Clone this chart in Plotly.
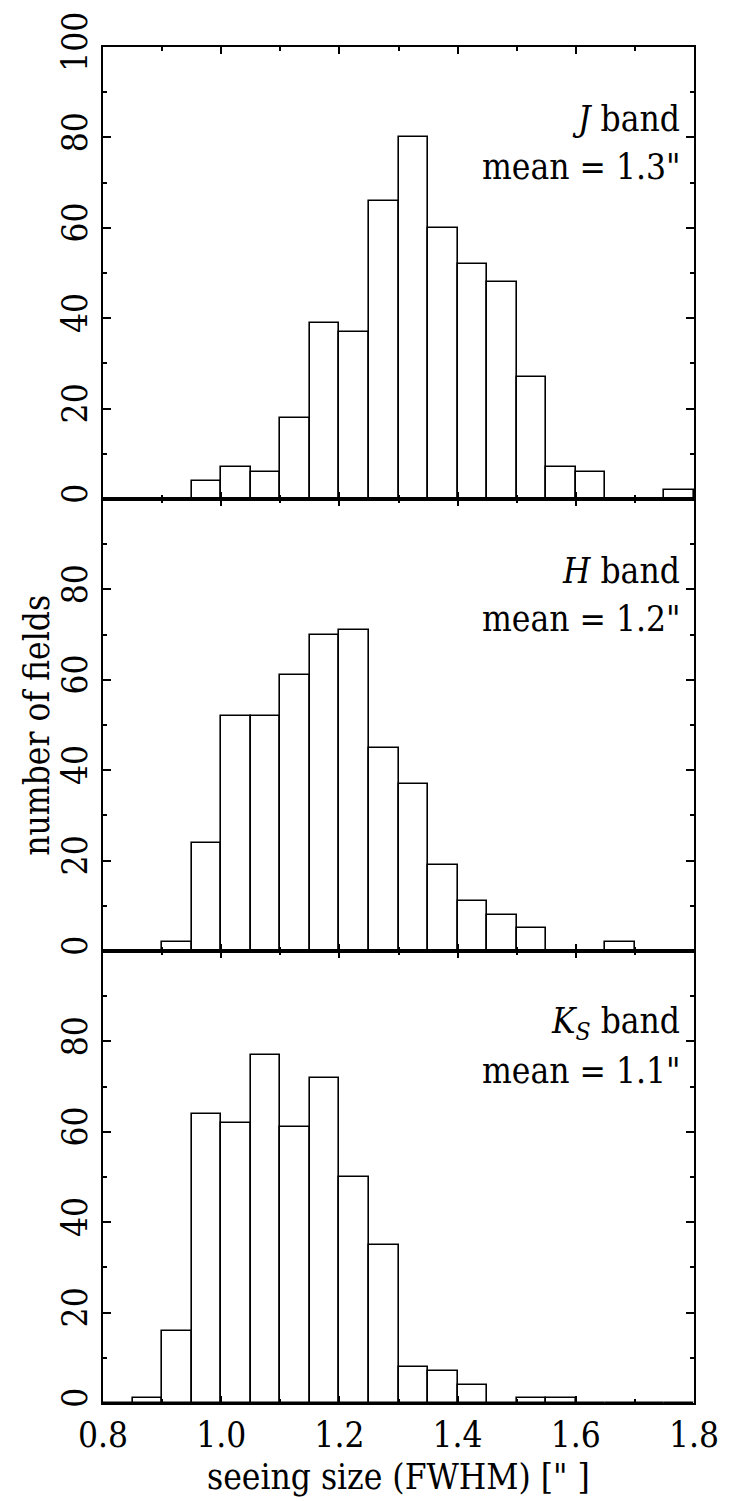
import plotly.graph_objects as go
from plotly.subplots import make_subplots

bin_left = [0.80, 0.85, 0.90, 0.95, 1.00, 1.05, 1.10, 1.15, 1.20, 1.25,
            1.30, 1.35, 1.40, 1.45, 1.50, 1.55, 1.60, 1.65, 1.70, 1.75]
bin_width = 0.05

j_counts = [0, 0, 0, 4, 7, 6, 18, 39, 37, 66, 80, 60, 52, 48, 27, 7, 6, 0, 0, 2]
h_counts = [0, 0, 2, 24, 52, 52, 61, 70, 71, 45, 37, 19, 11, 8, 5, 0, 0, 2, 0, 0]
ks_counts = [0, 1, 16, 64, 62, 77, 61, 72, 50, 35, 8, 7, 4, 0, 1, 1, 0, 0, 0, 0]

band_labels = ["<i>J</i> band", "<i>H</i> band", "<i>K</i><sub><i>S</i></sub> band"]
mean_labels = ['mean = 1.3"', 'mean = 1.2"', 'mean = 1.1"']

x_ticks = [0.8, 1.0, 1.2, 1.4, 1.6, 1.8]
x_ticklabels = ["0.8", "1.0", "1.2", "1.4", "1.6", "1.8"]
y_ticks_top = [0, 20, 40, 60, 80, 100]
y_ticks_other = [0, 20, 40, 60, 80]

FONT = "DejaVu Serif Condensed"
FS = 35

fig = make_subplots(rows=3, cols=1, shared_xaxes=True, vertical_spacing=0)

centers = [b + bin_width / 2 for b in bin_left]
for i, counts in enumerate([j_counts, h_counts, ks_counts]):
    xr = "x" if i == 0 else f"x{i + 1}"
    yr = "y" if i == 0 else f"y{i + 1}"
    fig.add_trace(go.Bar(
        x=centers, y=counts, width=[bin_width] * len(centers),
        marker=dict(color="white", line=dict(color="black", width=1.6)),
        showlegend=False,
    ), row=i + 1, col=1)
    fig.add_annotation(x=1.78, y=84, xref=xr, yref=yr,
                       text=band_labels[i], showarrow=False, xanchor="right", yanchor="middle",
                       font=dict(family=FONT, size=FS, color="black"))
    fig.add_annotation(x=1.78, y=73.5, xref=xr, yref=yr,
                       text=mean_labels[i], showarrow=False, xanchor="right", yanchor="middle",
                       font=dict(family=FONT, size=FS, color="black"))

for r in range(1, 4):
    fig.update_xaxes(range=[0.8, 1.8], showgrid=False, zeroline=False,
                     showline=True, linecolor="black", linewidth=2, mirror="allticks",
                     ticks="inside", ticklen=7, tickwidth=1.5, tickcolor="black",
                     tickvals=x_ticks, ticktext=x_ticklabels,
                     minor=dict(dtick=0.1, tick0=0.8, ticks="inside", ticklen=4, tickwidth=1.5, tickcolor="black", showgrid=False),
                     showticklabels=(r == 3),
                     tickfont=dict(family=FONT, size=FS, color="black"),
                     row=r, col=1)
    fig.update_yaxes(range=[0, 100], showgrid=False, zeroline=False,
                     showline=True, linecolor="black", linewidth=2, mirror="allticks",
                     ticks="inside", ticklen=8, tickwidth=1.5, tickcolor="black",
                     tickvals=y_ticks_top if r == 1 else y_ticks_other,
                     minor=dict(dtick=10, tick0=0, ticks="inside", ticklen=4, tickwidth=1.5, tickcolor="black", showgrid=False),
                     tickangle=-90,
                     tickfont=dict(family=FONT, size=FS, color="black"),
                     row=r, col=1)

fig.add_annotation(xref="paper", yref="paper", x=(36 - 103) / 598, y=0.5, text="number of fields",
                   textangle=-90, showarrow=False, xanchor="center", yanchor="middle",
                   font=dict(family=FONT, size=FS, color="black"))
fig.add_annotation(xref="paper", yref="paper", x=0.5, y=-(1477 - 1403) / 1365, text='seeing size (FWHM) [" ]',
                   showarrow=False, xanchor="center", yanchor="middle",
                   font=dict(family=FONT, size=FS, color="black"))

fig.update_layout(width=731, height=1501, margin=dict(l=103, r=30, t=38, b=98),
                  paper_bgcolor="white", plot_bgcolor="white", bargap=0,
                  font=dict(family=FONT, size=FS, color="black"))

fig.write_html("out.html")
